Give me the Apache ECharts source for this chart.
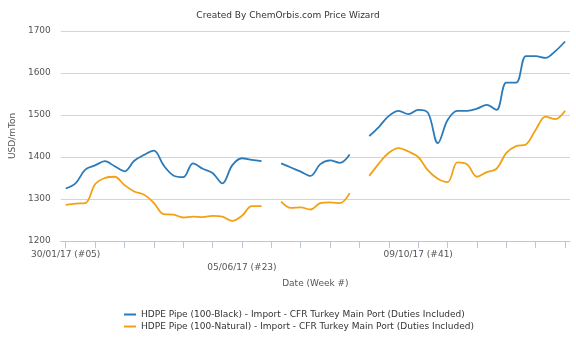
<!DOCTYPE html>
<html><head><meta charset="utf-8">
<script src="https://cdn.jsdelivr.net/npm/echarts@6/dist/echarts.min.js"></script>
<style>html,body{margin:0;padding:0;background:#fff}#c{width:576px;height:345px}</style>
</head><body><div id="c"></div>
<script>
const categories = [
 '30/01/17 (#05)','06/02/17 (#06)','13/02/17 (#07)','20/02/17 (#08)','27/02/17 (#09)','06/03/17 (#10)','13/03/17 (#11)','20/03/17 (#12)','27/03/17 (#13)','03/04/17 (#14)',
 '10/04/17 (#15)','17/04/17 (#16)','24/04/17 (#17)','01/05/17 (#18)','08/05/17 (#19)','15/05/17 (#20)','22/05/17 (#21)','29/05/17 (#22)','05/06/17 (#23)','12/06/17 (#24)',
 '19/06/17 (#25)','26/06/17 (#26)','03/07/17 (#27)','10/07/17 (#28)','17/07/17 (#29)','24/07/17 (#30)','31/07/17 (#31)','07/08/17 (#32)','14/08/17 (#33)','21/08/17 (#34)',
 '28/08/17 (#35)','04/09/17 (#36)','11/09/17 (#37)','18/09/17 (#38)','25/09/17 (#39)','02/10/17 (#40)','09/10/17 (#41)','16/10/17 (#42)','23/10/17 (#43)','30/10/17 (#44)',
 '06/11/17 (#45)','13/11/17 (#46)','20/11/17 (#47)','27/11/17 (#48)','04/12/17 (#49)','11/12/17 (#50)','18/12/17 (#51)','25/12/17 (#52)','01/01/18 (#01)','08/01/18 (#02)',
 '15/01/18 (#03)','22/01/18 (#04)'
];
const blackPipe = [
 1325,1337,1370,1380,1390,1378,1366,1391,1405,1415,
 1380,1356,1352,1385,1372,1362,1337,1380,1397,1393,
 1390,null,1385,1375,1365,1355,1383,1392,1386,1406,
 null,1450,1472,1498,1510,1502,1512,1505,1433,1488,
 1510,1510,1515,1524,1512,1577,1577,1640,1640,1636,
 1652,1675
];
const naturalPipe = [
 1286,1289,1290,1335,1350,1353,1333,1318,1310,1291,
 1264,1263,1256,1258,1257,1260,1258,1248,1260,1283,
 1283,null,1294,1279,1280,1275,1290,1292,1290,1314,
 null,1355,1385,1410,1421,1413,1400,1368,1348,1340,
 1387,1382,1353,1364,1372,1410,1426,1430,1465,1496,
 1490,1510
];
const seriesNames = [
 'HDPE Pipe (100-Black) - Import - CFR Turkey Main Port (Duties Included)',
 'HDPE Pipe (100-Natural) - Import - CFR Turkey Main Port (Duties Included)'
];
const labelIdx = [0, 18, 36];

const FONT = 'DejaVu Sans';
const chart = echarts.init(document.getElementById('c'), null, {renderer: 'canvas'});
chart.setOption({
  animation: false,
  backgroundColor: '#fff',
  title: {
    text: 'Created By ChemOrbis.com Price Wizard',
    left: 'center', top: 6,
    textStyle: {fontFamily: FONT, fontSize: 9, fontWeight: 'normal', color: '#333'}
  },
  grid: {left: 60, right: 6, top: 31, bottom: 104},
  legend: {
    orient: 'vertical', left: 119, top: 305, itemGap: 3,
    itemWidth: 12, itemHeight: 2, icon: 'rect',
    textStyle: {fontFamily: FONT, fontSize: 9, color: '#333'},
    data: seriesNames
  },
  xAxis: {
    type: 'category', data: categories, boundaryGap: true,
    name: 'Date (Week #)', nameLocation: 'middle', nameGap: 37,
    nameTextStyle: {fontFamily: FONT, fontSize: 9, color: '#555'},
    axisLine: {lineStyle: {color: '#B8C8D8'}},
    axisTick: {show: true, alignWithLabel: true, interval: (i) => i % 3 === 0, length: 7, lineStyle: {color: '#B8C8D8'}},
    axisLabel: {
      interval: (i) => labelIdx.indexOf(i) >= 0,
      fontFamily: FONT, fontSize: 9, color: '#555', margin: 7,
      formatter: (v, i) => (i === 18 ? '\n' + v : v),
      lineHeight: 13
    },
    splitLine: {show: false}
  },
  yAxis: {
    type: 'value', min: 1200, max: 1700, interval: 100,
    name: 'USD/mTon', nameLocation: 'middle', nameGap: 35, nameRotate: 90,
    nameTextStyle: {fontFamily: FONT, fontSize: 9, color: '#555'},
    axisLine: {show: false}, axisTick: {show: false},
    axisLabel: {fontFamily: FONT, fontSize: 9, color: '#555', margin: 10, formatter: (v) => String(v)},
    splitLine: {lineStyle: {color: '#d4d4d4', width: 1}}
  },
  series: [
    {name: seriesNames[0], type: 'line', data: blackPipe, smooth: 0.35, showSymbol: false, symbol: 'none',
     connectNulls: false, lineStyle: {color: '#2b7bba', width: 1.8}, itemStyle: {color: '#2b7bba'}},
    {name: seriesNames[1], type: 'line', data: naturalPipe, smooth: 0.35, showSymbol: false, symbol: 'none',
     connectNulls: false, lineStyle: {color: '#f2a114', width: 1.8}, itemStyle: {color: '#f2a114'}}
  ]
});
</script></body></html>
